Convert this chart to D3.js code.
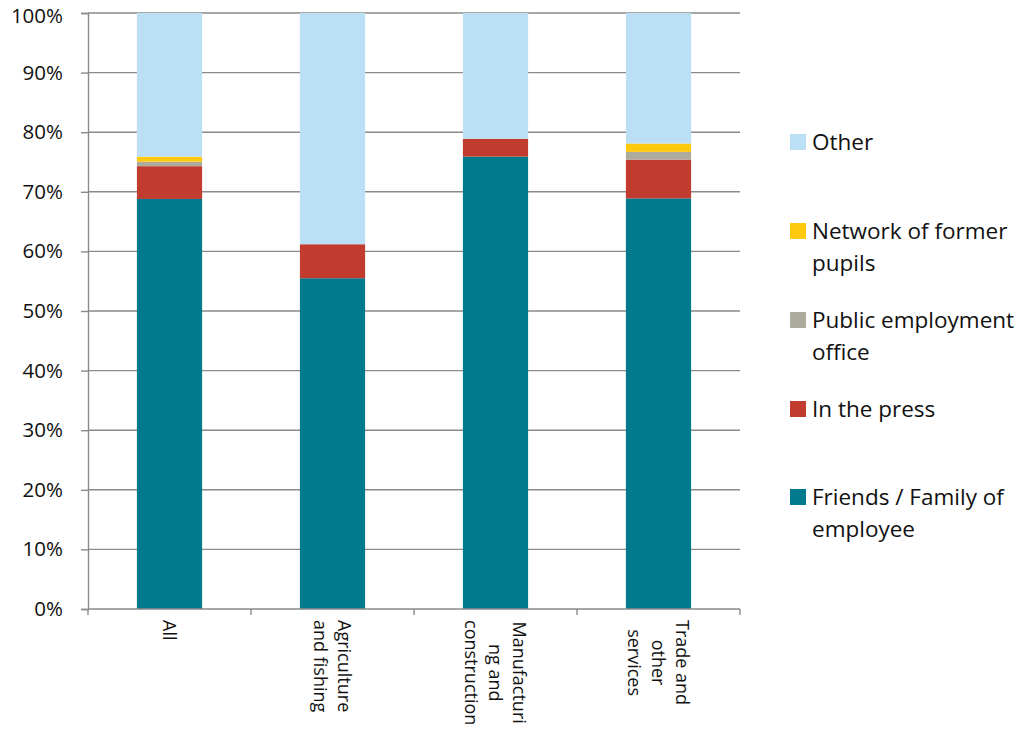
<!DOCTYPE html>
<html>
<head>
<meta charset="utf-8">
<script src="https://cdn.jsdelivr.net/npm/d3@7"></script>
<style>
  html, body { margin: 0; padding: 0; background: #fff; }
  svg text { font-family: "Open Sans", sans-serif; fill: #111; }
</style>
</head>
<body>
<svg id="chart" width="1020" height="729"></svg>
<script>
// Sector labels (each entry is the wrapped lines of the label)
const categories = ["All", "Agriculture and fishing", "Manufacturing and construction", "Trade and other services"];
const categoryLines = [
  ["All"],
  ["Agriculture", "and fishing"],
  ["Manufacturi", "ng and", "construction"],
  ["Trade and", "other", "services"]
];

// Share of recruitment channel per sector (%)
const friendsFamily = [68.8, 55.5, 75.9, 68.9];
const inThePress    = [5.5, 5.7, 3.0, 6.5];
const publicOffice  = [0.75, 0, 0, 1.3];
const formerPupils  = [0.85, 0, 0, 1.4];
const other         = [24.1, 38.8, 21.1, 21.9];

const seriesNames  = ["Friends / Family of employee", "In the press", "Public employment office", "Network of former pupils", "Other"];
const seriesValues = [friendsFamily, inThePress, publicOffice, formerPupils, other];
const seriesColors = ["#007A8C", "#C23B2F", "#ADAA9E", "#FFC90E", "#BBDFF5"];

const yTicks = [0, 10, 20, 30, 40, 50, 60, 70, 80, 90, 100];

const svg = d3.select("#chart");
const plot = { left: 88, right: 740, top: 13, bottom: 609 };

const x = d3.scaleBand().domain(categories).range([plot.left, plot.right]).paddingInner(0.6).paddingOuter(0.3);
const xOuter = d3.scaleBand().domain(categories).range([plot.left, plot.right]);
const y = d3.scaleLinear().domain([0, 100]).range([plot.bottom, plot.top]);

// Horizontal gridlines
svg.append("g").selectAll("line").data(yTicks.slice(1)).join("line")
  .attr("x1", plot.left).attr("x2", plot.right)
  .attr("y1", d => y(d)).attr("y2", d => y(d))
  .attr("stroke", "#8a8a8a").attr("stroke-width", 1.4);

// Stacked data
const rows = categories.map((c, i) => {
  const r = { category: c };
  seriesNames.forEach((s, j) => r[s] = seriesValues[j][i]);
  return r;
});
const stacked = d3.stack().keys(seriesNames)(rows);

svg.append("g").selectAll("g").data(stacked).join("g")
  .attr("fill", (d, i) => seriesColors[i])
  .selectAll("rect").data(d => d.filter(p => p[1] - p[0] > 0)).join("rect")
  .attr("x", d => x(d.data.category))
  .attr("width", x.bandwidth())
  .attr("y", d => y(d[1]))
  .attr("height", d => y(d[0]) - y(d[1]));

// Y axis
const yAxis = svg.append("g").attr("transform", `translate(${plot.left},0)`)
  .call(d3.axisLeft(y).tickValues(yTicks).tickFormat(d => d + "%").tickSize(7).tickPadding(18));
yAxis.select(".domain").attr("stroke", "#8a8a8a").attr("stroke-width", 1.4);
yAxis.selectAll(".tick line").attr("stroke", "#8a8a8a").attr("stroke-width", 1.4);
yAxis.selectAll(".tick text").attr("font-size", 20.5).attr("font-family", "Open Sans, sans-serif").attr("fill", "#111");
// keep the topmost label clear of the page edge
yAxis.selectAll(".tick text").filter(d => d === 100).attr("dy", "0.45em");

// X axis baseline and category separators
svg.append("line").attr("x1", plot.left).attr("x2", plot.right)
  .attr("y1", plot.bottom).attr("y2", plot.bottom)
  .attr("stroke", "#8a8a8a").attr("stroke-width", 1.4);
const seps = categories.map(c => xOuter(c)).concat([plot.right]);
svg.append("g").selectAll("line").data(seps).join("line")
  .attr("x1", d => d).attr("x2", d => d)
  .attr("y1", plot.bottom).attr("y2", plot.bottom + 6)
  .attr("stroke", "#8a8a8a").attr("stroke-width", 1.4);

// Rotated category labels
const lineGap = 24;
categories.forEach((c, i) => {
  const lines = categoryLines[i];
  const cx = xOuter(c) + xOuter.bandwidth() / 2;
  const g = svg.append("g");
  const texts = g.selectAll("text").data(lines).join("text")
    .attr("font-size", 18)
    .text(d => d);
  const maxLen = d3.max(texts.nodes(), n => n.getComputedTextLength());
  const top = 620;
  texts
    .attr("text-anchor", "middle")
    .attr("transform", (d, k) => {
      const lx = cx + ((lines.length - 1) / 2 - k) * lineGap;
      return `translate(${lx},${top + maxLen / 2}) rotate(90)`;
    })
    .attr("dy", "0.35em");
});

// Legend
const legendOrder = [4, 3, 2, 1, 0];
const legendLines = {
  4: ["Other"],
  3: ["Network of former", "pupils"],
  2: ["Public employment", "office"],
  1: ["In the press"],
  0: ["Friends / Family of", "employee"]
};
const legendY = [142, 231, 320, 409, 497];
legendOrder.forEach((s, k) => {
  const g = svg.append("g").attr("transform", `translate(790,${legendY[k]})`);
  g.append("rect").attr("x", 0).attr("y", -8).attr("width", 16).attr("height", 16).attr("fill", seriesColors[s]);
  g.selectAll("text").data(legendLines[s]).join("text")
    .attr("x", 22).attr("y", (d, j) => j * 32)
    .attr("dy", "0.35em")
    .attr("font-size", 22.5)
    .text(d => d);
});
</script>
</body>
</html>
